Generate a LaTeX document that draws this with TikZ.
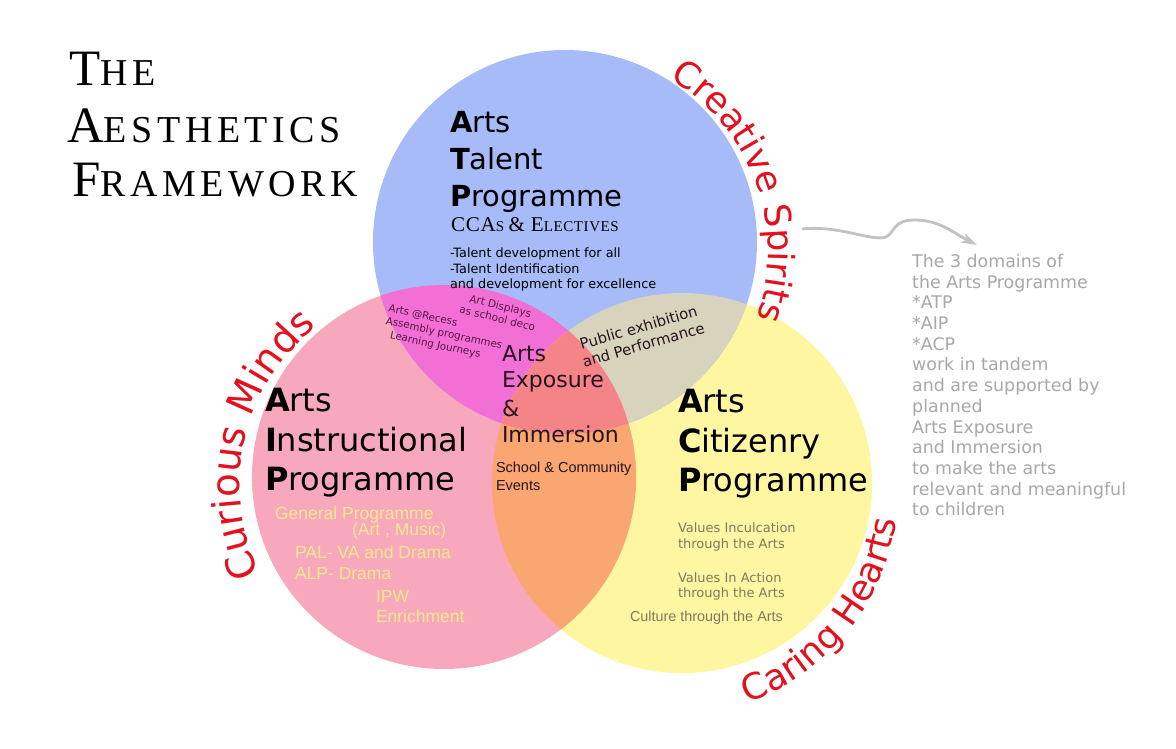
\documentclass[tikz,border=0pt]{standalone}
\usepackage{fontspec}
\setmainfont{DejaVu Sans}
\newfontfamily\titlefont{Liberation Serif}[LetterSpace=12]
\newfontfamily\scfont{Liberation Serif}[LetterSpace=4]
\newfontfamily\arialfont{Liberation Sans}
\newfontfamily\arcfont{DejaVu Sans}
\usetikzlibrary{decorations.text,arrows.meta}
\definecolor{cblue}{RGB}{166,187,247}
\definecolor{cpink}{RGB}{248,168,188}
\definecolor{cyel}{RGB}{254,246,160}
\definecolor{cbp}{RGB}{242,112,214}
\definecolor{cby}{RGB}{215,211,188}
\definecolor{cpy}{RGB}{249,166,112}
\definecolor{call}{RGB}{244,132,136}
\definecolor{cred}{RGB}{228,16,30}
\definecolor{ctxtyel}{RGB}{252,232,140}
\definecolor{colive}{RGB}{125,122,100}
\definecolor{cnote}{RGB}{168,168,168}
\definecolor{cmag}{RGB}{90,20,70}
\definecolor{cdark}{RGB}{40,20,30}
\begin{document}
\begin{tikzpicture}[x=1pt,y=1pt,
  txt/.style={anchor=base west, inner sep=0pt, outer sep=0pt},
  titleline/.style={txt, font=\titlefont},
  progline/.style={txt, font=\fontsize{29}{29}\selectfont},
  bigprog/.style={txt, font=\fontsize{32}{32}\selectfont},
  bullet/.style={txt, font=\fontsize{12.8}{12.8}\selectfont},
  aipline/.style={txt, font=\arialfont\fontsize{17.5}{17.5}\selectfont, text=ctxtyel},
  acpline/.style={txt, font=\fontsize{13}{13}\selectfont, text=colive},
  aeline/.style={txt, font=\fontsize{22}{22}\selectfont, text=cdark},
  scline/.style={txt, font=\arialfont\fontsize{14.5}{14.5}\selectfont, text=cdark},
  venn/.style={circle, inner sep=0pt, outer sep=0pt},
  arclabel/.style={decorate, decoration={text along path, text align=center, text color=cred}}
]
\useasboundingbox (0,0) rectangle (1176,748);
\fill[white] (0,0) rectangle (1176,748);

% circle centres
\coordinate (cB) at (565,506);
\coordinate (cP) at (444,271);
\coordinate (cY) at (682,265);

\node[venn, fill=cyel, minimum size=380pt] (yellow) at (cY) {};
\node[venn, fill=cpink, minimum size=384pt] (pink) at (cP) {};
\node[venn, fill=cblue, minimum size=384pt] (blue) at (cB) {};

\begin{scope}
  \clip (cB) circle[radius=192];
  \fill[cbp] (cP) circle[radius=192];
\end{scope}
\begin{scope}
  \clip (cB) circle[radius=192];
  \fill[cby] (cY) circle[radius=190];
\end{scope}
\begin{scope}
  \clip (cP) circle[radius=192];
  \fill[cpy] (cY) circle[radius=190];
\end{scope}
\begin{scope}
  \clip (cB) circle[radius=192];
  \clip (cP) circle[radius=192];
  \fill[call] (cY) circle[radius=190];
\end{scope}

% title
\node[titleline] (title1) at (69,662) {\fontsize{51}{51}\selectfont T\fontsize{38}{38}\selectfont HE};
\node[titleline] (title2) at (67,605) {\fontsize{51}{51}\selectfont A\fontsize{38}{38}\selectfont ESTHETICS};
\node[titleline] (title3) at (72,551) {\fontsize{51}{51}\selectfont F\fontsize{38}{38}\selectfont RAMEWORK};

% ATP
\node[progline] (atp1) at (450,615) {\textbf{A}rts};
\node[progline] (atp2) at (450,578) {\textbf{T}alent};
\node[progline] (atp3) at (450,541) {\textbf{P}rogramme};
\node[txt, font=\scfont] (atp4) at (451,516) {\fontsize{21}{21}\selectfont CCA\fontsize{15}{15}\selectfont S \fontsize{21}{21}\selectfont\& E\fontsize{15}{15}\selectfont LECTIVES};
\node[bullet] (atp5) at (450,490) {-Talent development for all};
\node[bullet] (atp6) at (450,474) {-Talent Identification};
\node[bullet] (atp7) at (450,459) {and development for excellence};

% AIP
\node[bigprog] (aip1) at (265,336) {\textbf{A}rts};
\node[bigprog] (aip2) at (265,296) {\textbf{I}nstructional};
\node[bigprog] (aip3) at (265,258) {\textbf{P}rogramme};
\node[aipline] (aip4) at (275,229) {General Programme};
\node[aipline] (aip5) at (352,213) {(Art , Music)};
\node[aipline] (aip6) at (295,190) {PAL- VA and Drama};
\node[aipline] (aip7) at (295,169) {ALP- Drama};
\node[aipline] (aip8) at (376,146) {IPW};
\node[aipline] (aip9) at (376,126) {Enrichment};

% ACP
\node[bigprog] (acp1) at (678,335) {\textbf{A}rts};
\node[bigprog] (acp2) at (678,295) {\textbf{C}itizenry};
\node[bigprog] (acp3) at (678,256) {\textbf{P}rogramme};
\node[acpline] (acp4) at (678,215) {Values Inculcation};
\node[acpline] (acp5) at (678,200) {through the Arts};
\node[acpline] (acp6) at (678,166) {Values In Action};
\node[acpline] (acp7) at (678,151) {through the Arts};
\node[txt, font=\arialfont\fontsize{14.4}{14.4}\selectfont, text=colive] (acp8) at (630,127) {Culture through the Arts};

% centre
\node[aeline] (ae1) at (502,386) {Arts};
\node[aeline] (ae2) at (502,360) {Exposure};
\node[aeline] (ae3) at (502,331) {\&};
\node[aeline] (ae4) at (502,305) {Immersion};
\node[scline] (sc1) at (496,275) {School \& Community};
\node[scline] (sc2) at (496,258) {Events};

% overlaps
\node[inner sep=0pt, rotate=16, align=center, text=cdark,
      font=\fontsize{14.8}{18}\selectfont] (pub) at (641,412) {Public exhibition\\and Performance};
\node[inner sep=0pt, rotate=-14, align=center, text=cmag,
      font=\fontsize{10.5}{12.5}\selectfont] (disp) at (499,436) {Art Displays\\as school deco};
\node[inner sep=0pt, rotate=-12, align=left, text=cmag,
      font=\fontsize{10.3}{13}\selectfont] (recess) at (444,414) {Arts @Recess\\Assembly programmes\\\hspace*{7pt}Learning Journeys};

% curved labels
\coordinate (arcB) at (568,497);
\coordinate (arcP) at (442,263);
\coordinate (arcY) at (672,258);
\path[arclabel, decoration={text={|\arcfont\fontsize{36}{36}\selectfont|Creative Spirits}}]
  ([shift={(65:200)}]arcB) arc[start angle=65, end angle=-25, radius=200];
\path[arclabel, decoration={text={|\arcfont\fontsize{39}{39}\selectfont|Curious Minds}}]
  ([shift={(212:202)}]arcP) arc[start angle=212, end angle=122, radius=202];
\path[arclabel, decoration={text={|\arcfont\fontsize{36}{36}\selectfont|Caring Hearts}}]
  ([shift={(-84:226)}]arcY) arc[start angle=-84, end angle=6, radius=226];

% note and arrow
\node[anchor=north west, inner sep=0pt, align=left, text=cnote,
      font=\fontsize{17.4}{20.7}\selectfont] (note) at (912,494)
  {The 3 domains of\\the Arts Programme\\*ATP\\*AIP\\*ACP\\work in tandem\\and are supported by\\planned\\Arts Exposure\\and Immersion\\to make the arts\\relevant and meaningful\\to children};
\coordinate (aS) at (802,519);
\coordinate (aE) at (977,503);
\draw[line width=2.8pt, draw=cnote!70, -{Stealth[length=16pt,width=10pt]}]
  (aS) .. controls (840,523) and (872,506) .. (886,511)
       .. controls (895,515) and (892,528) .. (915,528)
       .. controls (940,528) and (955,514) .. (aE);
\end{tikzpicture}
\end{document}
